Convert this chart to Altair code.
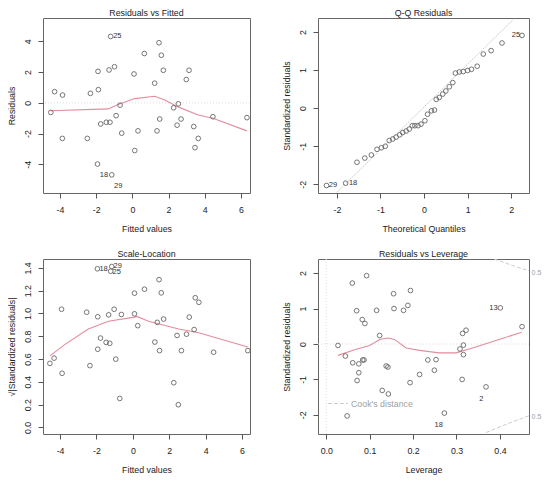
import altair as alt
import pandas as pd

FONT = "Liberation Sans"
PT = "#666666"
LOW = "#e38c9d"
REF = "#cdcdcd"
FS = 8.8

# ---------- Residuals vs Fitted ----------
rvf_fitted = [-4.51, -4.30, -3.86, -3.87, -2.49, -2.32, -1.90, -1.88, -1.93, -1.75,
              -1.44, -1.24, -1.29, -1.20, -0.99, -0.90, -0.68, -0.59, -1.14, 0.09,
              0.13, 0.31, 0.66, 1.23, 1.36, 1.47, 1.51, 1.60, 1.71, 2.28,
              2.47, 2.54, 2.69, 2.98, 3.13, 3.39, 3.46, 3.64, 4.45, 6.33]
rvf_resid = [-0.62, 0.73, 0.51, -2.31, -2.31, 0.62, 2.05, 0.86, -3.98, -1.37,
             -1.26, -1.26, 2.14, 4.32, 2.35, -0.83, -0.15, -1.97, -4.68, 1.88,
             -3.10, -1.82, 3.21, 1.28, -1.82, 3.91, -1.05, 3.10, 2.12, -0.32,
             -1.45, -0.06, -1.05, 1.52, 2.12, -1.54, -2.91, -2.31, -0.90, -0.96]
rvf_smooth_x = [-4.53, -1.34, -0.79, 0.13, 1.23, 1.79, 2.52, 3.63, 4.45, 6.33]
rvf_smooth_y = [-0.51, -0.39, -0.11, 0.28, 0.43, 0.19, -0.26, -0.79, -1.00, -1.82]
rvf_lab = ["25", "18", "29"]
rvf_lab_x = [-0.83, -1.57, -0.78]
rvf_lab_y = [4.32, -4.68, -5.43]

# ---------- Q-Q Residuals ----------
qq_theo = [-2.24, -1.80, -1.54, -1.36, -1.21, -1.08, -0.98, -0.89, -0.80, -0.72,
           -0.64, -0.56, -0.49, -0.41, -0.34, -0.27, -0.21, -0.14, -0.07, 0.02,
           0.08, 0.17, 0.24, 0.28, 0.35, 0.43, 0.50, 0.58, 0.66, 0.72,
           0.81, 0.90, 1.00, 1.09, 1.22, 1.36, 1.54, 1.79, 2.25]
qq_std = [-2.03, -1.97, -1.42, -1.31, -1.23, -1.08, -1.04, -1.00, -0.85, -0.81,
          -0.76, -0.70, -0.64, -0.60, -0.55, -0.46, -0.46, -0.46, -0.42, -0.33,
          -0.16, -0.07, -0.05, 0.23, 0.28, 0.37, 0.45, 0.56, 0.67, 0.92,
          0.95, 0.96, 0.99, 1.02, 1.10, 1.42, 1.51, 1.71, 1.91]
qq_line_x = [-2.44, 2.41]
qq_line_y = [-2.70, 2.73]
qq_lab = ["29", "18", "25"]
qq_lab_x = [-2.09, -1.63, 2.11]
qq_lab_y = [-2.03, -1.97, 1.91]

# ---------- Scale-Location ----------
sl_fitted = [-4.56, -4.33, -3.92, -3.89, -2.54, -2.36, -1.95, -1.93, -1.93, -1.78,
             -1.47, -1.27, -1.33, -1.16, -1.22, -1.03, -0.94, -0.72, -0.63, 0.09,
             0.09, 0.27, 0.64, 1.21, 1.34, 1.44, 1.47, 1.56, 1.69, 2.25,
             2.43, 2.50, 2.67, 2.95, 3.10, 3.37, 3.43, 3.63, 4.44, 6.32]
sl_sqrt = [0.562, 0.608, 1.037, 0.475, 1.011, 0.542, 1.392, 0.971, 0.686, 0.784,
           0.746, 0.738, 0.988, 1.412, 1.371, 1.037, 0.599, 0.254, 0.991, 1.178,
           0.997, 0.893, 1.213, 0.749, 0.922, 1.297, 0.674, 1.181, 0.951, 0.392,
           0.807, 0.199, 0.674, 0.818, 0.968, 0.859, 1.138, 1.098, 0.660, 0.674]
sl_smooth_x = [-4.56, -3.73, -2.45, -1.34, 0.09, 0.22, 0.86, 2.52, 3.62, 6.32]
sl_smooth_y = [0.628, 0.729, 0.864, 0.931, 0.968, 0.974, 0.931, 0.864, 0.830, 0.706]
sl_lab = ["18", "29", "25"]
sl_lab_x = [-1.61, -0.83, -0.89]
sl_lab_y = [1.392, 1.415, 1.366]

# ---------- Residuals vs Leverage ----------
lev_h = [0.027, 0.044, 0.048, 0.060, 0.061, 0.070, 0.071, 0.075, 0.075, 0.083,
         0.084, 0.087, 0.089, 0.093, 0.116, 0.123, 0.129, 0.138, 0.142, 0.143,
         0.155, 0.156, 0.178, 0.188, 0.194, 0.193, 0.215, 0.234, 0.253, 0.249,
         0.272, 0.308, 0.313, 0.314, 0.316, 0.316, 0.322, 0.368, 0.401, 0.451]
lev_r = [-0.04, -0.34, -2.03, 1.72, -0.53, 0.94, -1.03, -0.56, -0.81, 0.69,
         -0.45, -0.45, 0.58, 1.93, 0.95, 0.24, -1.31, -0.62, -0.65, -1.41,
         1.42, 1.00, 0.95, 1.09, 1.51, -1.09, -0.86, -0.45, -0.44, -0.74,
         -1.95, -0.14, -1.00, 0.30, -0.03, -0.30, 0.39, -1.21, 1.02, 0.49]
lev_smooth_x = [0.027, 0.069, 0.100, 0.123, 0.142, 0.157, 0.184, 0.215, 0.260, 0.299, 0.337, 0.398, 0.450]
lev_smooth_y = [-0.32, -0.15, -0.04, 0.13, 0.17, 0.13, -0.11, -0.18, -0.25, -0.25, -0.11, 0.13, 0.33]
cook_top_x = [0.387, 0.410, 0.440, 0.470]
cook_top_y = [2.40, 2.30, 2.17, 2.06]
cook_bot_x = [0.368, 0.420, 0.470]
cook_bot_y = [-2.50, -2.24, -2.01]
cook_lvl = ["0.5", "0.5"]
cook_lvl_x = [0.473, 0.473]
cook_lvl_y = [2.00, -2.05]
cook_leg_x = [0.004, 0.050]
cook_leg_y = [-1.68, -1.68]
cook_leg_text = ["Cook's distance"]
cook_leg_tx = [0.057]
cook_leg_ty = [-1.68]
lev_lab = ["13", "2", "18"]
lev_lab_x = [0.385, 0.357, 0.259]
lev_lab_y = [1.02, -1.54, -2.28]

MINUS = "\u2212"


def xaxis(values, title, fmt):
    return alt.Axis(values=values, title=title, format=fmt, grid=False, domain=False,
                    tickSize=5, tickColor="#555", labelColor="#222", titleColor="#222",
                    labelFont=FONT, titleFont=FONT, labelFontSize=FS, titleFontSize=FS,
                    titleFontWeight="normal", labelPadding=7, titlePadding=11,
                    labelExpr="replace(datum.label, '" + MINUS + "', '-')")


def yaxis(values, title, fmt):
    return alt.Axis(values=values, title=title, format=fmt, grid=False, domain=False,
                    tickSize=5, tickColor="#555", labelColor="#222", titleColor="#222",
                    labelFont=FONT, titleFont=FONT, labelFontSize=FS, titleFontSize=FS,
                    titleFontWeight="normal", labelAngle=270, labelAlign="center",
                    labelBaseline="bottom", labelPadding=6, titlePadding=6.5,
                    labelExpr="replace(datum.label, '" + MINUS + "', '-')")


def panel(title, w, h, xdom, ydom, xv, yv, xt, yt, xf, yf,
          px, py, sx=None, sy=None, lab=None, lx=None, ly=None, extra=None):
    X = alt.X("x:Q", scale=alt.Scale(domain=xdom, nice=False, zero=False), axis=xaxis(xv, xt, xf))
    Y = alt.Y("y:Q", scale=alt.Scale(domain=ydom, nice=False, zero=False), axis=yaxis(yv, yt, yf))
    layers = []
    if extra:
        for df, mk in extra:
            enc = {}
            if "x" in df.columns:
                enc["x"] = X
            if "y" in df.columns:
                enc["y"] = Y
            if "t" in df.columns:
                enc["text"] = alt.Text("t:N")
            if "g" in df.columns:
                enc["detail"] = alt.Detail("g:N")
            layers.append(mk(alt.Chart(df)).encode(**enc))
    if sx is not None:
        layers.append(alt.Chart(pd.DataFrame({"x": sx, "y": sy})).mark_line(
            color=LOW, strokeWidth=1.1, clip=True).encode(x=X, y=Y))
    layers.append(alt.Chart(pd.DataFrame({"x": px, "y": py})).mark_point(
        shape="circle", filled=False, color=PT, size=22, strokeWidth=0.9, opacity=1).encode(x=X, y=Y))
    if lab is not None:
        layers.append(alt.Chart(pd.DataFrame({"x": lx, "y": ly, "t": lab})).mark_text(
            font=FONT, fontSize=7.5, color="#333").encode(x=X, y=Y, text="t:N"))
    return alt.layer(*layers).properties(
        width=w, height=h,
        title=alt.Title(title, font=FONT, fontSize=FS, fontWeight="normal", color="#222", offset=0),
        view=alt.ViewBackground(stroke="#666666", strokeWidth=1, fill="white"),
    )


LW, RW, H = 207, 211, 175

zero_h = (pd.DataFrame({"y": [0]}),
          lambda c: c.mark_rule(color="#dddddd", strokeWidth=1, strokeDash=[1, 2]))

p1 = panel("Residuals vs Fitted", LW, H, [-4.94, 6.50], [-5.86, 5.52],
           [-4, -2, 0, 2, 4, 6], [-4, -2, 0, 2, 4], "Fitted values", "Residuals", "d", "d",
           rvf_fitted, rvf_resid, rvf_smooth_x, rvf_smooth_y, rvf_lab, rvf_lab_x, rvf_lab_y,
           extra=[zero_h])

qq_line = (pd.DataFrame({"x": qq_line_x, "y": qq_line_y}),
           lambda c: c.mark_line(color=REF, strokeWidth=1, strokeDash=[2, 1], clip=True))
p2 = panel("Q-Q Residuals", RW, H, [-2.435, 2.41], [-2.227, 2.366],
           [-2, -1, 0, 1, 2], [-2, -1, 0, 1, 2], "Theoretical Quantiles", "Standardized residuals",
           "d", "d", qq_theo, qq_std, None, None, qq_lab, qq_lab_x, qq_lab_y, extra=[qq_line])

p3 = panel("Scale-Location", LW, H, [-4.94, 6.44], [-0.058, 1.478],
           [-4, -2, 0, 2, 4, 6], [0, 0.2, 0.4, 0.6, 0.8, 1.0, 1.2, 1.4], "Fitted values",
           "\u221a|Standardized residuals|", "d", ".1f",
           sl_fitted, sl_sqrt, sl_smooth_x, sl_smooth_y, sl_lab, sl_lab_x, sl_lab_y)

zero_v = (pd.DataFrame({"x": [0]}),
          lambda c: c.mark_rule(color="#dddddd", strokeWidth=1, strokeDash=[1, 2]))
cook_df = pd.DataFrame({"x": cook_top_x + cook_bot_x, "y": cook_top_y + cook_bot_y,
                        "g": ["a"] * len(cook_top_x) + ["b"] * len(cook_bot_x)})
cook_lines = (cook_df, lambda c: c.mark_line(color=REF, strokeWidth=1, strokeDash=[4, 2], clip=True))
cook_leg = (pd.DataFrame({"x": cook_leg_x, "y": cook_leg_y}),
            lambda c: c.mark_line(color=REF, strokeWidth=1, strokeDash=[4, 2]))
cook_leg_t = (pd.DataFrame({"x": cook_leg_tx, "y": cook_leg_ty, "t": cook_leg_text}),
              lambda c: c.mark_text(font=FONT, fontSize=FS, color="#a0a0a0", align="left"))
cook_lvl_t = (pd.DataFrame({"x": cook_lvl_x, "y": cook_lvl_y, "t": cook_lvl}),
              lambda c: c.mark_text(font=FONT, fontSize=7, color="#a0a0a0", align="left"))

p4 = panel("Residuals vs Leverage", RW, H, [-0.019, 0.467], [-2.54, 2.40],
           [0.0, 0.1, 0.2, 0.3, 0.4], [-2, -1, 0, 1, 2], "Leverage", "Standardized residuals",
           ".1f", "d", lev_h, lev_r, lev_smooth_x, lev_smooth_y, lev_lab, lev_lab_x, lev_lab_y,
           extra=[zero_h, zero_v, cook_lines, cook_leg, cook_leg_t, cook_lvl_t])

chart = alt.concat(p1, p2, p3, p4, columns=2,
                   spacing=alt.RowColnumber(row=66, column=68), bounds="flush").properties(
    padding={"left": -2, "top": 0, "right": 0, "bottom": 0}
).configure(background="white")

chart.save("out.html", embed_options={"renderer": "svg", "actions": False})
